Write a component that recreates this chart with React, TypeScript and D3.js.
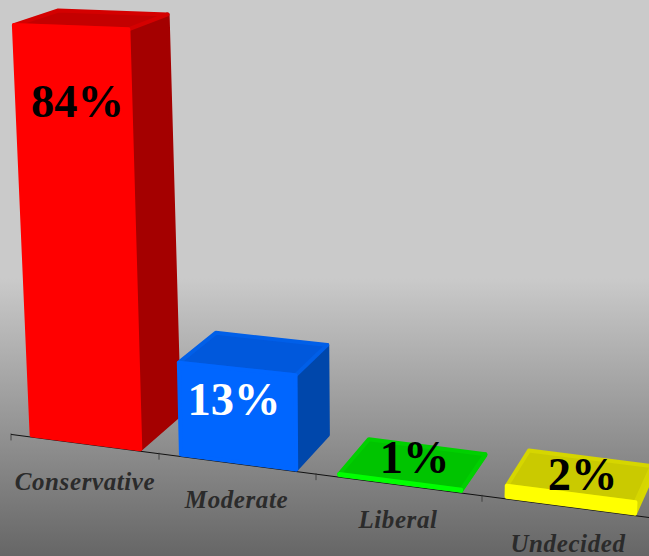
import React from "react";
import * as d3 from "d3";

const categories = ["Conservative", "Moderate", "Liberal", "Undecided"];
const values = [84, 13, 1, 2];
const valueLabels = ["84%", "13%", "1%", "2%"];
const labelColors = ["#000000", "#ffffff", "#000000", "#000000"];
const frontColors = ["#ff0000", "#0066ff", "#00ff00", "#ffff00"];
const topColors = ["#c40000", "#0058dc", "#00c400", "#caca00"];
const sideColors = ["#a40000", "#0047ab", "#00d000", "#d8d800"];
const bevelColors = ["#d40000", "#005ee8", "#00d000", "#d6d600"];
const titleFragments = ["g", "p", "g"];

const W = 649, H = 556;
const tickIndex = [0, 1, 2, 3, 4];
const x = d3.scaleLinear().domain(tickIndex).range([11, 159, 316, 482, 657]);
const baseY = d3.scaleLinear().domain([0, 649]).range([433, 517.5]);
const h = d3.scaleLinear().domain([0, 1, 2, 13, 84]).range([2, 3, 12, 92, 417]);

const depthVP: [number, number] = [1000, -300];
const vertVP: [number, number] = [346, 7700];
const depthFrac = 0.045;

function project(band: number, value: number, depth: number): [number, number] {
  const bx = x(band);
  const by = baseY(bx);
  const hh = h(value) * (1 + 0.00022 * (bx - 86));
  const px = bx - hh * (vertVP[0] - bx) / (vertVP[1] - by);
  const py = by - hh;
  return [px + (depthVP[0] - px) * depthFrac * depth, py + (depthVP[1] - py) * depthFrac * depth];
}
const poly = (pts: [number, number][]) => pts.map((p) => p.join(",")).join(" ");

export default function App() {
  return (
    <svg width={W} height={H} style={{ position: "fixed", left: 0, top: 0 }}>
      <defs>
        <linearGradient id="bg" x1="0" y1="0" x2="0" y2="1">
          <stop offset="0.5" stopColor="#cacaca" />
          <stop offset="1" stopColor="#666666" />
        </linearGradient>
        <filter id="soft" x="-5%" y="-5%" width="110%" height="110%"><feGaussianBlur stdDeviation="0.6" /></filter>
      </defs>
      <rect width={W} height={H} fill="url(#bg)" />
      {titleFragments.map((t, i) => (
        <text key={i} x={[218, 405, 505][i]} y={-9.5} textAnchor="middle" fontFamily="Liberation Serif" fontWeight="bold" fontSize={44} fill="#444">
          {t}
        </text>
      ))}
      <line x1={x(0)} x2={W} y1={baseY(x(0))} y2={baseY(W)} stroke="#111" strokeWidth={1} />
      {tickIndex.map((t) => (
        <line key={t} x1={x(t)} x2={x(t)} y1={baseY(x(t)) - 1} y2={baseY(x(t)) + 6} stroke="#333" strokeWidth={0.8} />
      ))}
      {categories.map((c, i) => {
        const a = i + 0.14, b = i + 0.874, v = values[i];
        const fbl = project(a, 0, 0), fbr = project(b, 0, 0);
        const ftl = project(a, v, 0), ftr = project(b, v, 0);
        const btl = project(a, v, 1), btr = project(b, v, 1), bbr = project(b, 0, 1);
        return (
          <g key={c} filter="url(#soft)" strokeLinejoin="round" strokeWidth={4}>
            <polygon points={poly([fbr, bbr, btr, ftr])} fill={sideColors[i]} stroke={sideColors[i]} />
            <polygon points={poly([ftl, btl, btr, ftr])} fill={topColors[i]} stroke={bevelColors[i]} />
            <polygon points={poly([fbl, fbr, ftr, ftl])} fill={frontColors[i]} stroke={frontColors[i]} />
          </g>
        );
      })}
      {categories.map((c, i) => {
        const lx = [77.5, 234, 414.5, 582.5][i], ly = [117, 415, 473, 490][i];
        return (
          <text key={c} x={lx} y={ly} textAnchor="middle" fontFamily="Liberation Serif" fontWeight="bold" fontSize={46.5} fill={labelColors[i]}>
            {valueLabels[i]}
          </text>
        );
      })}
      {categories.map((c, i) => {
        const lx = [85, 236.5, 398, 568][i], ly = [490, 508, 528, 552][i];
        return (
          <text key={c} x={lx} y={ly} textAnchor="middle" fontFamily="Liberation Serif" fontWeight="bold" fontStyle="italic" fontSize={25} letterSpacing={0.6} fill="#2b2b2b">
            {c}
          </text>
        );
      })}
    </svg>
  );
}
